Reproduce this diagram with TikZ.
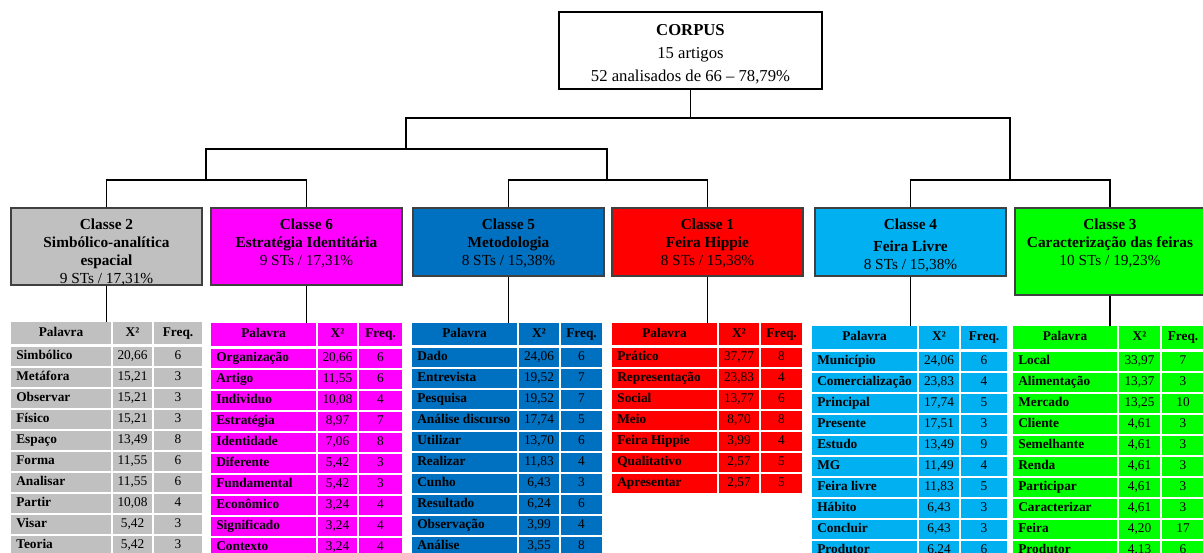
\documentclass[tikz,border=0pt]{standalone}
\usepackage{fontspec}
\setmainfont{Liberation Serif}
\usepackage{tikz}

\definecolor{cinza}{HTML}{C0C0C0}
\definecolor{rosa}{HTML}{FF00FF}
\definecolor{azul}{HTML}{0070C0}
\definecolor{vermelho}{HTML}{FF0000}
\definecolor{ciano}{HTML}{00B0F0}
\definecolor{verde}{HTML}{00FF00}

\tikzset{
    ligacao/.style={line width=1.1pt, black},
    caixacorpus/.style={draw=black, line width=1.2pt, inner sep=0pt},
    classe/.style={draw=black!75, line width=0.9pt, inner sep=0pt},
    rotulo/.style={align=center, inner sep=0pt, font=\fontsize{11.5}{13.5}\selectfont},
    celula/.style={inner sep=0pt, minimum height=14.25pt, text height=7pt, text depth=2pt, font=\fontsize{10}{12}\selectfont},
    palavra/.style={inner sep=0pt, text height=7pt, text depth=2pt, font=\fontsize{10}{12}\selectfont\bfseries}
}

\newcommand{\tabela}[8]{%
    \def\tabnome{#1}\def\tabcor{#2}%
    \def\cola{#3}\def\colb{#4}\def\colc{#5}\def\cold{#6}\def\ydados{#8}%
    \node[celula, fill=#2, minimum width={(#4-#3-2)*0.75pt}, minimum height={(#8-#7-3)*0.75pt}, font=\fontsize{10}{12}\selectfont\bfseries] (#1-p) at ({(#3+#4)/2},{#7+(#8-#7-3)/2}) {Palavra};
    \node[celula, fill=#2, minimum width={(#5-#4-2)*0.75pt}, minimum height={(#8-#7-3)*0.75pt}, font=\fontsize{10}{12}\selectfont\bfseries] (#1-x) at ({(#4+#5)/2},{#7+(#8-#7-3)/2}) {X²};
    \node[celula, fill=#2, minimum width={(#6-#5-2)*0.75pt}, minimum height={(#8-#7-3)*0.75pt}, font=\fontsize{10}{12}\selectfont\bfseries] (#1-f) at ({(#5+#6)/2},{#7+(#8-#7-3)/2}) {Freq.};
}

\newcommand{\linha}[4]{%
    \node[celula, fill=\tabcor, minimum width={(\colb-\cola-2)*0.75pt}] (\tabnome-c#1) at ({(\cola+\colb)/2},{\ydados+21*(#1-1)+9.5}) {};
    \node[palavra, anchor=west] (\tabnome-w#1) at ([xshift=4pt]\tabnome-c#1.west) {#2};
    \node[celula, fill=\tabcor, minimum width={(\colc-\colb-2)*0.75pt}] (\tabnome-x#1) at ({(\colb+\colc)/2},{\ydados+21*(#1-1)+9.5}) {#3};
    \node[celula, fill=\tabcor, minimum width={(\cold-\colc-2)*0.75pt}] (\tabnome-f#1) at ({(\colc+\cold)/2},{\ydados+21*(#1-1)+9.5}) {#4};
}

\begin{document}
\begin{tikzpicture}[x=0.75pt, y=-0.75pt]
    \useasboundingbox (0,0) rectangle (1203,553);

    \node[caixacorpus, minimum width={263*0.75pt}, minimum height={77*0.75pt}] (corpus) at (690.5,50.5) {};
    \node[align=center, inner sep=0pt, font=\fontsize{12.5}{17.5}\selectfont, anchor=north] (corpust) at ([yshift=-9.4pt]corpus.north) {\textbf{CORPUS}\\15 artigos\\52 analisados de 66 – 78,79\%};

    \node[classe, fill=cinza, minimum width={191*0.75pt}, minimum height={77*0.75pt}] (c2) at (106.5,246.5) {};
    \node[classe, fill=rosa, minimum width={191*0.75pt}, minimum height={77*0.75pt}] (c6) at (306.5,246.5) {};
    \node[classe, fill=azul, minimum width={191*0.75pt}, minimum height={68*0.75pt}] (c5) at (508.5,242) {};
    \node[classe, fill=vermelho, minimum width={191*0.75pt}, minimum height={68*0.75pt}] (c1) at (707.5,242) {};
    \node[classe, fill=ciano, minimum width={191*0.75pt}, minimum height={68*0.75pt}] (c4) at (910.5,242) {};
    \node[classe, fill=verde, minimum width={190*0.75pt}, minimum height={87*0.75pt}] (c3) at (1110,251.5) {};

    \node[rotulo, anchor=north] (c2t) at ([yshift=-8.5pt]c2.north) {\textbf{Classe 2}\\\textbf{Simbólico-analítica}\\\textbf{espacial}\\9 STs / 17,31\%};
    \node[rotulo, anchor=north] (c6t) at ([yshift=-8.5pt]c6.north) {\textbf{Classe 6}\\\textbf{Estratégia Identitária}\\9 STs / 17,31\%};
    \node[rotulo, anchor=north] (c5t) at ([yshift=-8.5pt]c5.north) {\textbf{Classe 5}\\\textbf{Metodologia}\\8 STs / 15,38\%};
    \node[rotulo, anchor=north] (c1t) at ([yshift=-8.5pt]c1.north) {\textbf{Classe 1}\\\textbf{Feira Hippie}\\8 STs / 15,38\%};
    \node[rotulo, anchor=north] (c4t) at ([yshift=-8.5pt]c4.north) {\textbf{Classe 4}\\[3pt]\textbf{Feira Livre}\\8 STs / 15,38\%};
    \node[rotulo, anchor=north] (c3t) at ([yshift=-8.5pt]c3.north) {\textbf{Classe 3}\\\textbf{Caracterização das feiras}\\10 STs / 19,23\%};

    \coordinate (n0) at (690.5,118);
    \coordinate (n1) at (406,149);
    \coordinate (n2) at (1010,180);
    \coordinate (n3) at (206,180);
    \coordinate (n4) at (607,180);

    \draw[ligacao] (corpus.south) -- (n0);
    \draw[ligacao] (n1) |- (n0) -| (n2);
    \draw[ligacao] (n3) |- (n1) -| (n4);
    \draw[ligacao] (c2.north) |- (n3) -| (c6.north);
    \draw[ligacao] (c5.north) |- (n4) -| (c1.north);
    \draw[ligacao] (c4.north) |- (n2) -| (c3.north);

    \tabela{t2}{cinza}{10}{112}{153}{203}{322}{347}
    \linha{1}{Simbólico}{20,66}{6}
    \linha{2}{Metáfora}{15,21}{3}
    \linha{3}{Observar}{15,21}{3}
    \linha{4}{Físico}{15,21}{3}
    \linha{5}{Espaço}{13,49}{8}
    \linha{6}{Forma}{11,55}{6}
    \linha{7}{Analisar}{11,55}{6}
    \linha{8}{Partir}{10,08}{4}
    \linha{9}{Visar}{5,42}{3}
    \linha{10}{Teoria}{5,42}{3}

    \tabela{t6}{rosa}{210}{317}{358}{403}{323}{349}
    \linha{1}{Organização}{20,66}{6}
    \linha{2}{Artigo}{11,55}{6}
    \linha{3}{Individuo}{10,08}{4}
    \linha{4}{Estratégia}{8,97}{7}
    \linha{5}{Identidade}{7,06}{8}
    \linha{6}{Diferente}{5,42}{3}
    \linha{7}{Fundamental}{5,42}{3}
    \linha{8}{Econômico}{3,24}{4}
    \linha{9}{Significado}{3,24}{4}
    \linha{10}{Contexto}{3,24}{4}

    \tabela{t5}{azul}{411}{518}{560}{603}{323}{348}
    \linha{1}{Dado}{24,06}{6}
    \linha{2}{Entrevista}{19,52}{7}
    \linha{3}{Pesquisa}{19,52}{7}
    \linha{4}{Análise discurso}{17,74}{5}
    \linha{5}{Utilizar}{13,70}{6}
    \linha{6}{Realizar}{11,83}{4}
    \linha{7}{Cunho}{6,43}{3}
    \linha{8}{Resultado}{6,24}{6}
    \linha{9}{Observação}{3,99}{4}
    \linha{10}{Análise}{3,55}{8}

    \tabela{t1}{vermelho}{611}{718}{760}{803}{323}{348}
    \linha{1}{Prático}{37,77}{8}
    \linha{2}{Representação}{23,83}{4}
    \linha{3}{Social}{13,77}{6}
    \linha{4}{Meio}{8,70}{8}
    \linha{5}{Feira Hippie}{3,99}{4}
    \linha{6}{Qualitativo}{2,57}{5}
    \linha{7}{Apresentar}{2,57}{5}

    \tabela{t4}{ciano}{811}{918}{960}{1008}{326}{352}
    \linha{1}{Município}{24,06}{6}
    \linha{2}{Comercialização}{23,83}{4}
    \linha{3}{Principal}{17,74}{5}
    \linha{4}{Presente}{17,51}{3}
    \linha{5}{Estudo}{13,49}{9}
    \linha{6}{MG}{11,49}{4}
    \linha{7}{Feira livre}{11,83}{5}
    \linha{8}{Hábito}{6,43}{3}
    \linha{9}{Concluir}{6,43}{3}
    \linha{10}{Produtor}{6,24}{6}

    \tabela{t3}{verde}{1012}{1118}{1161}{1205}{326}{352}
    \linha{1}{Local}{33,97}{7}
    \linha{2}{Alimentação}{13,37}{3}
    \linha{3}{Mercado}{13,25}{10}
    \linha{4}{Cliente}{4,61}{3}
    \linha{5}{Semelhante}{4,61}{3}
    \linha{6}{Renda}{4,61}{3}
    \linha{7}{Participar}{4,61}{3}
    \linha{8}{Caracterizar}{4,61}{3}
    \linha{9}{Feira}{4,20}{17}
    \linha{10}{Produtor}{4,13}{6}

    \draw[ligacao] (c2.south) -- (c2.south |- t2-p.north);
    \draw[ligacao] (c6.south) -- (c6.south |- t6-p.north);
    \draw[ligacao] (c5.south) -- (c5.south |- t5-p.north);
    \draw[ligacao] (c1.south) -- (c1.south |- t1-p.north);
    \draw[ligacao] (c4.south) -- (c4.south |- t4-p.north);
    \draw[ligacao] (c3.south) -- (c3.south |- t3-p.north);
\end{tikzpicture}
\end{document}
